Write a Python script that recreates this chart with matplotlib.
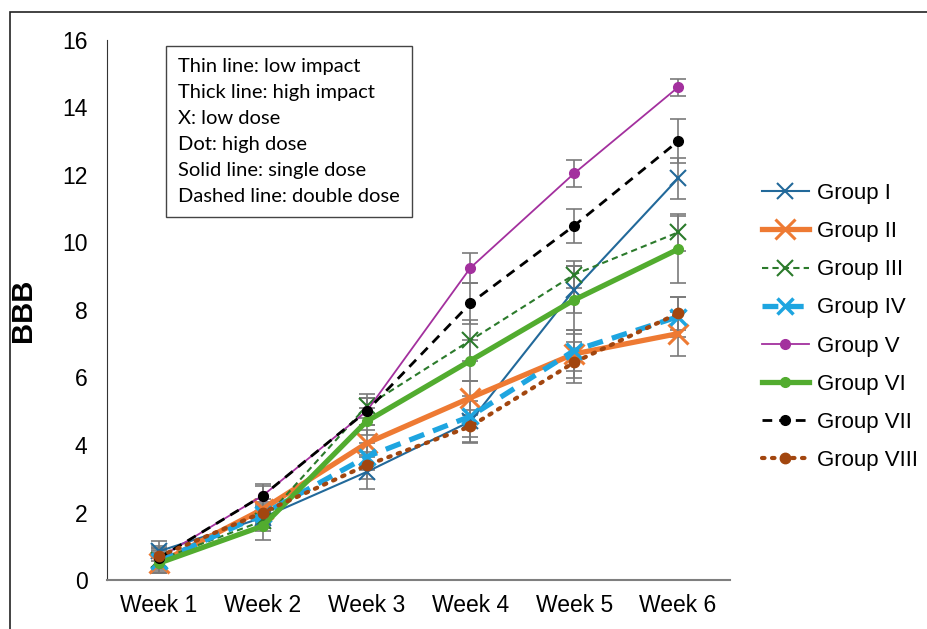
import numpy as np
import matplotlib.pyplot as plt
from matplotlib.patches import Rectangle

plt.rcParams['font.family'] = ['Liberation Sans', 'DejaVu Sans']

weeks = ['Week 1', 'Week 2', 'Week 3', 'Week 4', 'Week 5', 'Week 6']
labels = ['Group I', 'Group II', 'Group III', 'Group IV',
          'Group V', 'Group VI', 'Group VII', 'Group VIII']

# mean BBB per week
g1 = [0.85, 1.85, 3.2, 4.7, 8.6, 11.9]
g2 = [0.5, 2.1, 4.05, 5.4, 6.7, 7.3]
g3 = [0.6, 1.75, 5.15, 7.1, 9.05, 10.3]
g4 = [0.55, 1.95, 3.65, 4.85, 6.8, 7.8]
g5 = [0.65, 2.5, 5.0, 9.25, 12.05, 14.6]
g6 = [0.5, 1.6, 4.7, 6.5, 8.3, 9.8]
g7 = [0.65, 2.5, 5.0, 8.2, 10.5, 13.0]
g8 = [0.7, 2.0, 3.4, 4.55, 6.45, 7.9]

# error bars
e1 = [0.3, 0.3, 0.5, 0.6, 0.7, 0.6]
e2 = [0.3, 0.3, 0.4, 0.5, 0.7, 0.65]
e3 = [0.3, 0.3, 0.35, 0.6, 0.4, 0.55]
e4 = [0.3, 0.3, 0.4, 0.6, 0.6, 0.6]
e5 = [0.3, 0.3, 0.4, 0.45, 0.4, 0.25]
e6 = [0.3, 0.4, 0.4, 0.6, 1.0, 1.0]
e7 = [0.3, 0.35, 0.4, 0.6, 0.5, 0.65]
e8 = [0.3, 0.3, 0.4, 0.5, 0.6, 0.5]

means = [g1, g2, g3, g4, g5, g6, g7, g8]
errs = [e1, e2, e3, e4, e5, e6, e7, e8]

styles = [
    dict(color='#22699a', lw=1.5, ls='-', marker='x', ms=11, mew=1.5),
    dict(color='#ee7a33', lw=3.8, ls='-', marker='x', ms=15, mew=2.2),
    dict(color='#2b7a2b', lw=1.5, ls=(0, (3, 2)), marker='x', ms=11, mew=1.5),
    dict(color='#1ea5e0', lw=3.8, ls=(0, (3, 1.8)), marker='x', ms=12, mew=2.5),
    dict(color='#a3309e', lw=1.3, ls='-', marker='o', ms=7),
    dict(color='#52ac2f', lw=3.8, ls='-', marker='o', ms=7),
    dict(color='black', lw=2, ls=(0, (3.5, 2.5)), marker='o', ms=7),
    dict(color='#a2460f', lw=3, ls=(0, (0.6, 1.8)), marker='o', ms=7.5,
         dash_capstyle='round'),
]

fig = plt.figure(figsize=(9.28, 6.29), dpi=100)
fig.patches.append(Rectangle((10 / 928, -0.1), 1.1, 1 - 12 / 629 + 0.1,
                             transform=fig.transFigure, fill=False,
                             edgecolor='#222222', lw=1.2))
ax = fig.add_axes([107 / 928, 1 - 580 / 629, 623 / 928, 540 / 629])

x = np.arange(1, len(weeks) + 1)
for m, e in zip(means, errs):
    ax.errorbar(x, m, yerr=e, fmt='none', ecolor='#7a7a7a', elinewidth=1.2,
                capsize=5.5, capthick=1.2, zorder=1)

handles = []
for m, st, lab in zip(means, styles, labels):
    h, = ax.plot(x, m, label=lab, zorder=3, **st)
    handles.append(h)

ax.set_xlim(0.5, 6.5)
ax.set_ylim(0, 16)
ax.set_yticks(np.arange(0, 17, 2))
ax.set_xticks(x)
ax.set_xticklabels(weeks)
ax.tick_params(length=0, labelsize=16.5)
ax.tick_params(axis='x', pad=10)
ax.tick_params(axis='y', pad=14)
for s in ['top', 'right']:
    ax.spines[s].set_visible(False)
ax.spines['left'].set_color('#333333')
ax.spines['bottom'].set_color('#7f7f7f')
ax.spines['bottom'].set_linewidth(1.5)
ax.set_ylabel('BBB', fontsize=21, fontweight='bold')
ax.yaxis.set_label_coords(-0.112, 0.5)

fig.legend(handles=handles, loc='upper left',
           bbox_to_anchor=(751 / 928, 1 - 172 / 629), borderpad=0,
           frameon=False, fontsize=16, handlelength=2.1, labelspacing=0.77,
           handletextpad=0.36)

note = ('Thin line: low impact\nThick line: high impact\nX: low dose\n'
        'Dot: high dose\nSolid line: single dose\nDashed line: double dose')
fig.text(178 / 928, 1 - 58 / 629, note, va='top', ha='left',
         fontsize=14.5, family=['Lato', 'DejaVu Sans'], linespacing=1.64,
         bbox=dict(boxstyle='square,pad=0.62', fc='white', ec='#444444', lw=1))

fig.savefig('out.png', dpi=100)
